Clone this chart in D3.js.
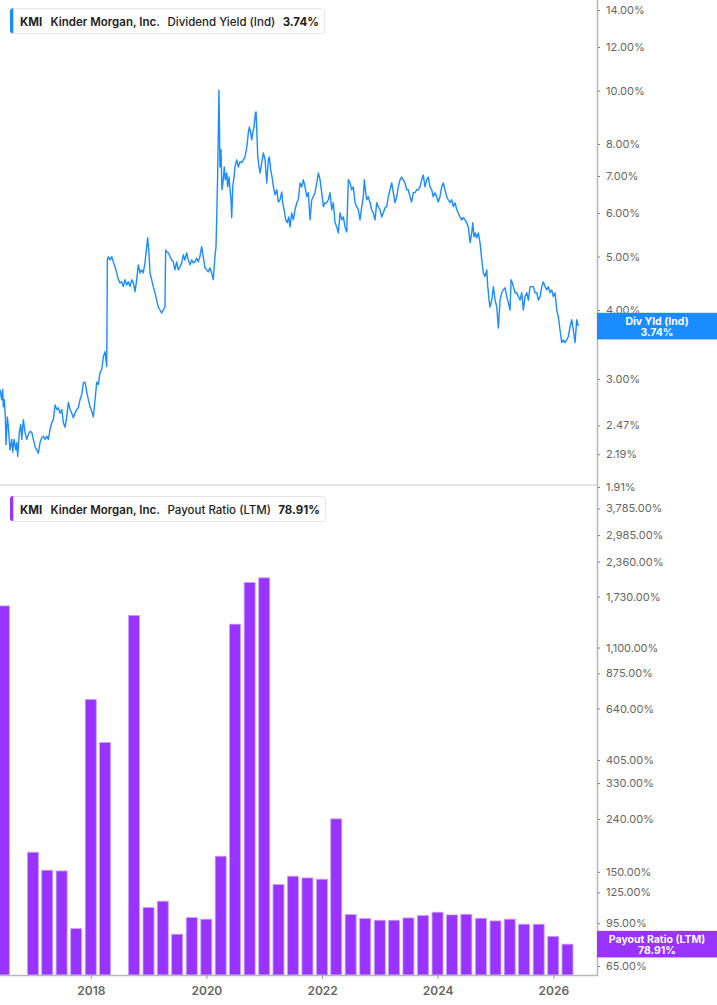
<!DOCTYPE html>
<html><head><meta charset="utf-8">
<script src="https://cdn.jsdelivr.net/npm/d3@7"></script>
<style>
body{margin:0;background:#fff;}
svg{display:block;font-family:Inter,"Noto Sans",Arial,sans-serif;}
</style>
</head><body>
<svg id="c" width="717" height="1005"></svg>
<script>
// ---------- data ----------
const ticker = "KMI";
const company = "Kinder Morgan, Inc.";
const yieldLabel = "Dividend Yield (Ind)";
const yieldShort = "Div Yld (Ind)";
const yieldLast = 3.74;
const payoutLabel = "Payout Ratio (LTM)";
const payoutLast = 78.91;

const yearTicks = [2018, 2020, 2022, 2024, 2026];
const yieldTicks = [1.91, 2.19, 2.47, 3, 4, 5, 6, 7, 8, 10, 12, 14];
const payoutTicks = [65, 95, 125, 150, 240, 330, 405, 640, 875, 1100, 1730, 2360, 2985, 3785];

const quarterEnds = [
 "2016-06-30","2016-09-30","2016-12-31","2017-03-31","2017-06-30","2017-09-30","2017-12-31",
 "2018-03-31","2018-06-30","2018-09-30","2018-12-31","2019-03-31","2019-06-30","2019-09-30",
 "2019-12-31","2020-03-31","2020-06-30","2020-09-30","2020-12-31","2021-03-31","2021-06-30",
 "2021-09-30","2021-12-31","2022-03-31","2022-06-30","2022-09-30","2022-12-31","2023-03-31",
 "2023-06-30","2023-09-30","2023-12-31","2024-03-31","2024-06-30","2024-09-30","2024-12-31",
 "2025-03-31","2025-06-30","2025-09-30","2025-12-31","2026-03-31"];
const payoutValues = [
 1592, null, 178.6, 152.2, 151.2, 90.6, 693,
 473, null, 1464, 109.2, 115.6, 86.2, 99.9,
 98.5, 172.3, 1354, 1960, 2043, 134, 144.3,
 142.1, 140.5, 240.1, 102.6, 99.1, 97.6, 97.6,
 99.6, 101.7, 104.8, 102.3, 102.9, 99.3, 97.0,
 98.5, 94.2, 94.2, 84.6, 78.91];

// [decimal year, dividend yield %]
const yieldSeries = [
[2016.429,2.87],[2016.459,2.75],[2016.476,2.87],[2016.486,2.67],[2016.504,2.75],[2016.521,2.56],
[2016.533,2.28],[2016.556,2.56],[2016.573,2.46],[2016.602,2.23],[2016.632,2.33],[2016.649,2.21],
[2016.671,2.33],[2016.701,2.23],[2016.718,2.30],[2016.735,2.17],[2016.763,2.40],[2016.787,2.48],
[2016.805,2.33],[2016.832,2.53],[2016.862,2.40],[2016.891,2.33],[2016.919,2.38],[2016.948,2.41],
[2016.978,2.40],[2017.005,2.33],[2017.035,2.26],[2017.064,2.23],[2017.092,2.20],[2017.121,2.30],
[2017.151,2.35],[2017.178,2.36],[2017.208,2.33],[2017.237,2.36],[2017.265,2.33],[2017.294,2.43],
[2017.324,2.50],[2017.351,2.53],[2017.381,2.69],[2017.410,2.64],[2017.438,2.66],[2017.467,2.60],
[2017.497,2.64],[2017.524,2.50],[2017.554,2.45],[2017.583,2.56],[2017.611,2.72],[2017.640,2.64],
[2017.670,2.60],[2017.697,2.55],[2017.727,2.60],[2017.756,2.64],[2017.784,2.66],[2017.813,2.75],
[2017.843,2.81],[2017.870,2.95],[2017.900,2.96],[2017.929,2.84],[2017.957,2.75],[2017.986,2.67],
[2018.016,2.62],[2018.043,2.56],[2018.073,2.75],[2018.102,2.96],[2018.130,2.93],[2018.159,3.08],
[2018.189,3.12],[2018.216,3.29],[2018.246,3.36],[2018.275,3.16],[2018.286,4.93],[2018.303,5.00],
[2018.332,4.93],[2018.362,5.00],[2018.389,4.89],[2018.419,4.79],[2018.448,4.67],[2018.476,4.54],
[2018.505,4.48],[2018.535,4.50],[2018.562,4.41],[2018.592,4.54],[2018.621,4.44],[2018.649,4.50],
[2018.678,4.41],[2018.708,4.54],[2018.735,4.48],[2018.765,4.32],[2018.794,4.54],[2018.822,4.83],
[2018.851,4.67],[2018.880,4.73],[2018.908,4.67],[2018.937,4.87],[2018.967,5.21],[2018.984,5.41],
[2019.006,5.08],[2019.024,4.67],[2019.053,4.54],[2019.081,4.41],[2019.110,4.30],[2019.140,4.17],
[2019.167,4.05],[2019.197,4.00],[2019.226,3.95],[2019.254,4.00],[2019.283,4.05],[2019.295,5.14],
[2019.313,5.10],[2019.340,5.08],[2019.370,5.00],[2019.399,4.93],[2019.427,4.89],[2019.456,4.73],
[2019.486,4.89],[2019.513,4.73],[2019.543,4.79],[2019.572,4.87],[2019.600,5.04],[2019.629,4.93],
[2019.659,5.08],[2019.686,4.93],[2019.716,4.83],[2019.745,4.93],[2019.773,4.87],[2019.802,4.89],
[2019.832,4.97],[2019.859,4.89],[2019.889,5.00],[2019.918,5.21],[2019.946,5.00],[2019.975,4.77],
[2020.005,4.73],[2020.032,4.69],[2020.062,4.77],[2020.091,4.67],[2020.119,4.54],[2020.148,5.00],
[2020.166,5.21],[2020.178,5.83],[2020.195,7.09],[2020.217,10.02],[2020.235,7.27],[2020.252,7.81],
[2020.269,6.61],[2020.292,6.89],[2020.309,7.27],[2020.327,6.89],[2020.351,7.09],[2020.368,6.69],
[2020.391,6.97],[2020.408,6.61],[2020.425,6.34],[2020.437,5.88],[2020.455,6.69],[2020.477,6.97],
[2020.494,7.27],[2020.524,7.49],[2020.551,7.27],[2020.581,7.43],[2020.610,7.40],[2020.638,7.49],
[2020.667,7.58],[2020.697,7.90],[2020.724,8.38],[2020.742,8.59],[2020.766,8.38],[2020.783,8.14],
[2020.800,8.38],[2020.823,8.59],[2020.845,9.11],[2020.857,9.15],[2020.870,8.48],[2020.887,7.58],
[2020.909,7.27],[2020.927,7.09],[2020.956,7.40],[2020.984,7.71],[2021.013,7.49],[2021.042,6.80],
[2021.070,7.49],[2021.087,7.58],[2021.111,7.18],[2021.134,6.97],[2021.157,6.69],[2021.186,6.47],
[2021.215,6.61],[2021.243,6.28],[2021.273,6.34],[2021.302,6.55],[2021.319,6.26],[2021.342,6.08],
[2021.371,5.83],[2021.399,5.76],[2021.423,5.90],[2021.446,5.66],[2021.475,6.00],[2021.503,5.83],
[2021.532,6.08],[2021.562,6.26],[2021.589,6.34],[2021.619,6.80],[2021.648,6.69],[2021.676,6.89],
[2021.705,6.69],[2021.735,6.42],[2021.762,6.53],[2021.792,5.83],[2021.821,6.34],[2021.849,6.42],
[2021.878,6.53],[2021.908,6.80],[2021.935,7.09],[2021.965,6.89],[2021.994,6.53],[2022.022,6.16],
[2022.051,6.26],[2022.081,6.26],[2022.108,6.34],[2022.138,6.53],[2022.167,6.08],[2022.195,6.26],
[2022.224,5.76],[2022.254,5.66],[2022.281,5.52],[2022.311,6.00],[2022.340,5.83],[2022.368,5.90],
[2022.397,5.66],[2022.427,5.54],[2022.454,6.89],[2022.484,6.80],[2022.513,6.61],[2022.541,6.69],
[2022.570,6.26],[2022.600,6.16],[2022.627,6.08],[2022.657,5.83],[2022.686,6.16],[2022.714,6.42],
[2022.731,6.89],[2022.755,6.53],[2022.773,6.34],[2022.800,6.42],[2022.830,6.26],[2022.859,6.08],
[2022.887,6.00],[2022.916,5.83],[2022.946,6.26],[2022.973,6.16],[2023.003,6.08],[2023.032,5.90],
[2023.060,6.00],[2023.089,6.13],[2023.119,6.16],[2023.146,6.42],[2023.176,6.61],[2023.205,6.80],
[2023.233,6.53],[2023.262,6.26],[2023.292,6.42],[2023.319,6.69],[2023.349,6.89],[2023.378,6.97],
[2023.406,6.89],[2023.435,6.80],[2023.465,6.61],[2023.492,6.61],[2023.522,6.42],[2023.551,6.28],
[2023.579,6.53],[2023.608,6.53],[2023.638,6.61],[2023.665,6.61],[2023.695,6.69],[2023.724,6.89],
[2023.752,7.03],[2023.781,6.69],[2023.811,6.89],[2023.838,6.97],[2023.868,6.69],[2023.897,6.61],
[2023.925,6.42],[2023.954,6.53],[2023.984,6.42],[2024.011,6.28],[2024.041,6.42],[2024.070,6.69],
[2024.098,6.80],[2024.127,6.61],[2024.157,6.42],[2024.184,6.34],[2024.214,6.26],[2024.243,6.34],
[2024.271,6.16],[2024.300,6.26],[2024.330,6.08],[2024.357,6.00],[2024.387,5.90],[2024.416,5.83],
[2024.444,5.88],[2024.473,5.83],[2024.503,5.76],[2024.530,5.66],[2024.560,5.30],[2024.589,5.52],
[2024.606,5.76],[2024.629,5.43],[2024.651,5.52],[2024.675,5.41],[2024.703,5.52],[2024.732,5.30],
[2024.762,4.93],[2024.789,4.67],[2024.819,4.60],[2024.848,4.73],[2024.866,4.41],[2024.888,4.17],
[2024.905,4.05],[2024.935,4.17],[2024.962,4.41],[2024.992,4.17],[2025.021,4.05],[2025.049,3.71],
[2025.078,4.17],[2025.108,4.30],[2025.135,4.35],[2025.165,4.39],[2025.194,4.23],[2025.222,4.12],
[2025.251,4.00],[2025.269,4.54],[2025.291,4.48],[2025.308,4.41],[2025.338,4.30],[2025.367,4.30],
[2025.395,4.23],[2025.424,4.17],[2025.454,4.30],[2025.481,4.00],[2025.511,4.23],[2025.540,4.30],
[2025.568,4.17],[2025.597,4.41],[2025.627,4.41],[2025.654,4.41],[2025.684,4.30],[2025.713,4.30],
[2025.741,4.17],[2025.770,4.23],[2025.800,4.41],[2025.827,4.50],[2025.857,4.41],[2025.886,4.35],
[2025.914,4.41],[2025.943,4.30],[2025.973,4.35],[2026.000,4.23],[2026.030,4.30],[2026.059,4.00],
[2026.087,3.89],[2026.116,3.68],[2026.146,3.49],[2026.173,3.53],[2026.203,3.49],[2026.232,3.53],
[2026.260,3.58],[2026.289,3.73],[2026.319,3.84],[2026.346,3.68],[2026.376,3.49],[2026.405,3.84],
[2026.433,3.74]];

// ---------- layout ----------
const W = 717, H = 1005;
const plotR = 597;
const top1 = 0, bot1 = 487;
const top2 = 487, bot2 = 975;
const blue = "#1a8cff", purple = "#9933ff";

function toDate(t){
  const y = Math.floor(t);
  const a = new Date(y,0,1), b = new Date(y+1,0,1);
  return new Date(+a + (t-y)*(b-a));
}
const svg = d3.select("#c");

const x = d3.scaleTime().domain([toDate(2016.4293), toDate(2026.756)]).range([0, plotR]);
const y1 = d3.scaleLog().domain([1.91, 14.6]).range([bot1, top1]);
const y2 = d3.scaleLog().domain([60.0, 4578]).range([bot2, top2]);

const defs = svg.append("defs");
defs.append("clipPath").attr("id","cp1").append("rect").attr("x",0).attr("y",top1).attr("width",plotR).attr("height",bot1-top1);
defs.append("clipPath").attr("id","cp2").append("rect").attr("x",0).attr("y",top2).attr("width",plotR).attr("height",bot2-top2);

// separator
svg.append("line").attr("x1",0).attr("x2",plotR).attr("y1",485).attr("y2",485)
  .attr("stroke","#dcdcdc").attr("stroke-width",1.5);

// bars
const barW = 11;
const bars = quarterEnds.map((d,i)=>({date:new Date(d+"T12:00:00"), v:payoutValues[i]})).filter(d=>d.v!=null);
svg.append("g").attr("clip-path","url(#cp2)").selectAll("rect").data(bars).join("rect")
  .attr("x", d=>x(d.date)-barW/2).attr("width", barW)
  .attr("y", d=>y2(d.v)).attr("height", d=>bot2 - y2(d.v))
  .attr("fill", purple).attr("stroke","#c9a2ff").attr("stroke-width",0.8);

// line
const line = d3.line().x(d=>x(toDate(d[0]))).y(d=>y1(d[1]));
svg.append("g").attr("clip-path","url(#cp1)").append("path").datum(yieldSeries)
  .attr("d", line).attr("fill","none").attr("stroke", blue).attr("stroke-width",1.4)
  .attr("stroke-linejoin","round");

// right axes
function rightAxis(scale, ticks, fmt){
  const g = svg.append("g").attr("transform",`translate(${plotR},0)`);
  g.call(d3.axisRight(scale).tickValues(ticks).tickFormat(fmt).tickSize(3).tickSizeOuter(0));
  g.select(".domain").remove();
  g.selectAll(".tick line").attr("stroke","#777");
  g.selectAll(".tick text").attr("x",9).attr("fill","#666").attr("font-size","11px")
    .attr("font-family",'Inter,"Noto Sans",Arial,sans-serif');
  return g;
}
const fmtPct = d => d3.format(",.2f")(d) + "%";
rightAxis(y1, yieldTicks, fmtPct);
rightAxis(y2, payoutTicks, fmtPct);

// axis lines
svg.append("line").attr("x1",plotR+0.5).attr("x2",plotR+0.5).attr("y1",0).attr("y2",bot2+1)
  .attr("stroke","#b8b8b8").attr("stroke-width",1.5);
svg.append("line").attr("x1",0).attr("x2",plotR+1).attr("y1",bot2+0.5).attr("y2",bot2+0.5)
  .attr("stroke","#b8b8b8").attr("stroke-width",1.5);

// bottom x axis
const gx = svg.append("g").attr("transform",`translate(0,${bot2})`);
gx.call(d3.axisBottom(x).tickValues(yearTicks.map(yy=>new Date(yy,0,1))).tickFormat(d3.timeFormat("%Y")).tickSize(4).tickSizeOuter(0));
gx.select(".domain").remove();
gx.selectAll(".tick line").attr("stroke","#999");
gx.selectAll(".tick text").attr("y",11).attr("fill","#666").attr("font-size","12px").attr("font-weight",600)
  .attr("font-family",'Inter,"Noto Sans",Arial,sans-serif');

// value badges
function badge(scale, v, label, color){
  const cy = scale(v);
  const g = svg.append("g");
  g.append("rect").attr("x",plotR).attr("y",cy-13.3).attr("width",W-plotR).attr("height",26.6).attr("fill",color);
  g.append("text").attr("x",657).attr("y",cy-1.5).attr("text-anchor","middle").attr("fill","#fff")
    .attr("font-size","10.5px").attr("font-weight",700).text(label);
  g.append("text").attr("x",657).attr("y",cy+9.5).attr("text-anchor","middle").attr("fill","#fff")
    .attr("font-size","10.5px").attr("font-weight",700).text(v.toFixed(2)+"%");
}
badge(y1, yieldLast, yieldShort, blue);
badge(y2, payoutLast, payoutLabel, purple);

// legends
function legend(y0, color, metric, val){
  const g = svg.append("g");
  const box = g.append("rect").attr("x",10.5).attr("y",y0+0.5).attr("height",25).attr("rx",3)
    .attr("fill","#fff").attr("stroke","#e4e4e4");
  g.append("path").attr("d",`M13.3,${y0} h-0.3 a3,3 0 0 0 -3,3 v19 a3,3 0 0 0 3,3 h0.3 z`).attr("fill",color);
  const parts = [[ticker,700,8.3],[company,600,7.6],[metric,500,7.3],[val,700,0]];
  let cx = 20;
  parts.forEach(p=>{
    const t = g.append("text").attr("x",cx).attr("y",y0+17.5).attr("font-size","11.5px")
      .attr("font-weight",p[1]).attr("fill","#222").text(p[0]);
    cx += t.node().getComputedTextLength() + p[2];
  });
  box.attr("width", cx + 5.5 - 10.5);
}
legend(8.3, blue, yieldLabel, yieldLast.toFixed(2)+"%");
legend(496, purple, payoutLabel, payoutLast.toFixed(2)+"%");
</script>
</body></html>
